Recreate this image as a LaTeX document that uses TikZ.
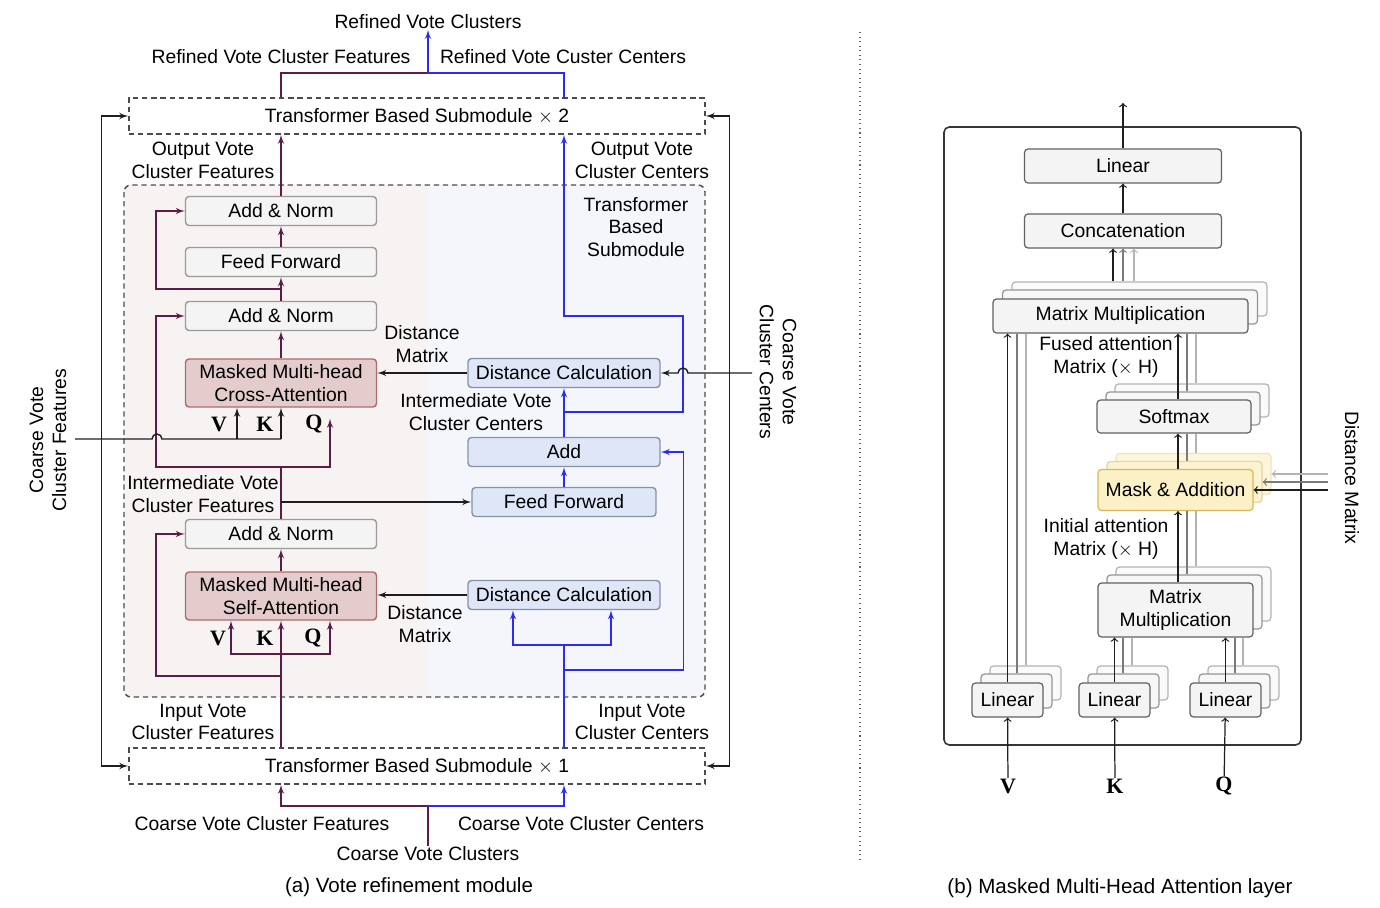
\documentclass[tikz,border=0pt]{standalone}
\usepackage{fontspec}
\setmainfont{Liberation Sans}
\newfontfamily\vkqfont{Liberation Serif}
\usepackage{tikz}
\usetikzlibrary{arrows,positioning,backgrounds}
\definecolor{featline}{HTML}{5E1B47}
\definecolor{ctrline}{HTML}{2B2BF5}
\definecolor{grayfill}{HTML}{F4F4F4}
\definecolor{graydraw}{HTML}{9A9A9A}
\definecolor{bluefill}{HTML}{DEE6F8}
\definecolor{bluedraw}{HTML}{8593A6}
\definecolor{attfill}{HTML}{E5CCCC}
\definecolor{attdraw}{HTML}{B06A6A}
\definecolor{featbg}{HTML}{F8F3F3}
\definecolor{ctrbg}{HTML}{F4F6FC}
\definecolor{maskfill}{HTML}{FBF0C6}
\definecolor{maskdraw}{HTML}{D7B85A}
\definecolor{darkline}{HTML}{1E1E1E}
\definecolor{midline}{HTML}{7A7A7A}
\definecolor{lightline}{HTML}{B4B4B4}

\begin{document}
\begin{tikzpicture}[
    x=0.02cm, y=-0.02cm,
    >=latex',
    font=\fontsize{11}{13}\selectfont,
    line width=0.8pt,
    graybox/.style={
		rectangle,
		rounded corners=2pt,
		draw=graydraw,
		fill=grayfill,
		minimum width=3.82cm,
		minimum height=0.58cm,
		inner sep=0pt,
		align=center
	},
    attbox/.style={
		graybox,
		draw=attdraw,
		fill=attfill,
		minimum height=0.96cm
	},
    bluebox/.style={
		graybox,
		draw=bluedraw,
		fill=bluefill,
		minimum width=3.84cm
	},
    subbox/.style={
		rectangle,
		draw=darkline!80,
		dash pattern=on 3pt off 2.2pt,
		minimum width=11.52cm,
		minimum height=0.72cm,
		inner sep=0pt
	},
    headbox/.style={
		rectangle,
		rounded corners=2pt,
		draw=darkline!70,
		fill=grayfill,
		line width=0.7pt,
		inner sep=0pt,
		align=center
	},
    stackA/.style={
		headbox,
		draw=midline!80,
		fill=grayfill!70
	},
    stackB/.style={
		headbox,
		draw=lightline,
		fill=grayfill!50
	},
    lbl/.style={
		inner sep=0pt,
		align=center
	},
    caption/.style={
		lbl,
		font=\fontsize{11.7}{14}\selectfont
	},
    vkq/.style={
		inner sep=0pt,
		font=\vkqfont\bfseries\fontsize{12.5}{14}\selectfont
	},
    feat/.style={draw=featline},
    ctr/.style={draw=ctrline},
    thin/.style={line width=0.7pt}
  ]
  \useasboundingbox (0,0) rectangle (1380,908);

  % backgrounds of the inner submodule
  \begin{scope}
    \clip[rounded corners=4pt] (124,185) rectangle (705,697);
    \fill[featbg] (124,185) rectangle (428,697);
    \fill[ctrbg] (428,185) rectangle (705,697);
  \end{scope}
  \draw[draw=darkline!80, dash pattern=on 3pt off 2.2pt, rounded corners=4pt] (124,185) rectangle (705,697);

  % (a) the blocks
  \node [subbox] (sub2) at (417,116) {Transformer Based Submodule $\times$ 2};
  \node [subbox] (sub1) at (417,766) {Transformer Based Submodule $\times$ 1};

  \node [graybox] (an3) at (281,211) {Add \& Norm};
  \node [graybox] (ff2) at (281,262) {Feed Forward};
  \node [graybox] (an2) at (281,316) {Add \& Norm};
  \node [attbox] (cross) at (281,383) {Masked Multi-head\\Cross-Attention};
  \node [graybox] (an1) at (281,534) {Add \& Norm};
  \node [attbox] (self) at (281,596) {Masked Multi-head\\Self-Attention};

  \node [bluebox] (dc2) at (564,373) {Distance Calculation};
  \node [bluebox] (addc) at (564,452) {Add};
  \node [bluebox, minimum width=3.68cm] (ffc) at (564,502) {Feed Forward};
  \node [bluebox] (dc1) at (564,595) {Distance Calculation};

  % labels
  \node [lbl] (rvc) at (428,22) {Refined Vote Clusters};
  \node [lbl] (rvf) at (281,57) {Refined Vote Cluster Features};
  \node [lbl] (rvcc) at (563,57) {Refined Vote Custer Centers};
  \node [lbl] (ovf) at (203,160) {Output Vote\\Cluster Features};
  \node [lbl] (ovc) at (642,160) {Output Vote\\Cluster Centers};
  \node [lbl] (tbs) at (636,227) {Transformer\\Based\\Submodule};
  \node [lbl] (dm2) at (422,344) {Distance\\Matrix};
  \node [lbl] (ivc) at (476,412) {Intermediate Vote\\Cluster Centers};
  \node [lbl] (ivf) at (203,494) {Intermediate Vote\\Cluster Features};
  \node [lbl] (dm1) at (425,624) {Distance\\Matrix};
  \node [lbl] (inf) at (203,722) {Input Vote\\Cluster Features};
  \node [lbl] (inc) at (642,722) {Input Vote\\Cluster Centers};
  \node [lbl] (cvfeat) at (262,824) {Coarse Vote Cluster Features};
  \node [lbl] (cvcent) at (581,824) {Coarse Vote Cluster Centers};
  \node [lbl] (cvclu) at (428,854) {Coarse Vote Clusters};
  \node [caption] (capa) at (409,887) {(a) Vote refinement module};
  \node [lbl, rotate=90] (cvfl) at (48,440) {Coarse Vote\\Cluster Features};
  \node [lbl, rotate=-90] (cvcr) at (778,372) {Coarse Vote\\Cluster Centers};

  \node [vkq] (vc) at (219,424) {V};
  \node [vkq] (kc) at (265,424) {K};
  \node [vkq] (qc) at (314,424) {Q};
  \node [vkq] (vs) at (218,638) {V};
  \node [vkq] (ks) at (265,638) {K};
  \node [vkq] (qs) at (313,638) {Q};

  \coordinate (topj) at (428,73);
  \coordinate (botj) at (428,806);
  \coordinate (cvfin) at (75,439);
  \coordinate (cvcin) at (752,373);

  % top and bottom
  \draw [feat] (sub2.north -| an3) |- (topj);
  \draw [ctr] (sub2.north -| dc2) |- (topj);
  \draw [ctr,->] (topj) -- (rvc.south);
  \draw [feat] (cvclu.north) -- (botj);
  \draw [feat,->] (botj) -| (sub1.south -| self);
  \draw [ctr,->] (botj) -| (sub1.south -| dc1);
  \draw [darkline,<->] (sub2.west) -| ([xshift=-0.54cm]sub1.west) -- (sub1.west);
  \draw [darkline,<->] (sub2.east) -| ([xshift=0.48cm]sub1.east) -- (sub1.east);

  % features branch
  \draw [feat,->] (an3) -- (an3 |- sub2.south);
  \draw [feat,->] (ff2) -- (an3);
  \draw [feat,->] (an2) -- (ff2);
  \draw [feat,->] (cross) -- (an2);
  \draw [feat,->] (281,289) -| ([xshift=-0.58cm]an3.west) -- (an3.west);
  \draw [feat] (an1.north) -- (281,467);
  \draw [feat,->] (281,467) -| ([xshift=-0.58cm]an2.west) -- (an2.west);
  \draw [feat,->] (281,467) -| ([xshift=0.98cm, yshift=-0.22cm]cross.south);
  \draw [darkline,->] (an1.north |- ffc) -- (ffc.west);
  \draw [darkline] (cvfin) -- (152,439) arc[start angle=180, end angle=0, radius=0.1cm] -- (cross.south |- cvfin);
  \draw [darkline,->] (cross.south |- cvfin) -- (cross.south);
  \draw [darkline,->] ([xshift=-0.88cm]cross.south |- cvfin) -- ([xshift=-0.88cm]cross.south);
  \draw [darkline,->] (dc2.west) -- (cross.east |- dc2);

  \draw [feat,->] (self) -- (an1);
  \draw [feat] (sub1.north -| self) -- (281,654);
  \draw [feat,->] (281,676) -| ([xshift=-0.58cm]an1.west) -- (an1.west);
  \draw [feat,->] (281,654) -| ([xshift=-1.0cm]self.south);
  \draw [feat,->] (281,654) -| ([xshift=0.98cm]self.south);
  \draw [feat,->] (281,654) -- (self.south);
  \draw [darkline,->] (dc1.west) -- (self.east |- dc1);

  % centers branch
  \draw [ctr] (sub1.north -| dc1) -- (564,645);
  \draw [ctr,->] (564,645) -| ([xshift=-1.02cm]dc1.south);
  \draw [ctr,->] (564,645) -| ([xshift=0.94cm]dc1.south);
  \draw [ctr,->] (564,670) -| ([xshift=0.46cm]addc.east) -- (addc.east);
  \draw [ctr,->] (ffc) -- (addc);
  \draw [ctr,->] (addc) -- (dc2);
  \draw [ctr,->] (564,412) -| (683,316) -| (sub2.south -| dc2);
  \draw [darkline,->] (cvcin) -- (688,373) arc[start angle=0, end angle=180, radius=0.1cm] -- (dc2.east);

  % divider
  \draw [darkline!70, line width=0.6pt, dotted] (860,32) -- (860,860);

  % (b) masked multi-head attention layer
  \draw [darkline!90, rounded corners=3pt, line width=0.9pt] (944,127) rectangle (1301,745);

  \node [headbox, minimum width=3.94cm, minimum height=0.68cm] (lin) at (1123,166) {Linear};
  \node [headbox, minimum width=3.94cm, minimum height=0.68cm] (concat) at (1123,231) {Concatenation};

  \node [stackB, minimum width=5.1cm, minimum height=0.68cm] (mmtc) at (1139.5,299) {};
  \node [stackA, minimum width=5.1cm, minimum height=0.68cm] (mmtb) at (1130,307) {};
  \node [headbox, minimum width=5.1cm, minimum height=0.68cm] (mmt) at (1120.5,316) {Matrix Multiplication};

  \node [stackB, minimum width=3.08cm, minimum height=0.66cm] (smc) at (1192,400.5) {};
  \node [stackA, minimum width=3.08cm, minimum height=0.66cm] (smb) at (1183,408.5) {};
  \node [headbox, minimum width=3.08cm, minimum height=0.66cm] (sm) at (1174,416.5) {Softmax};

  \node [stackB, fill=maskfill!60, draw=maskdraw!40, minimum width=3.1cm, minimum height=0.82cm] (mac) at (1193.5,474) {};
  \node [stackA, fill=maskfill!80, draw=maskdraw!60, minimum width=3.1cm, minimum height=0.82cm] (mab) at (1184.5,482) {};
  \node [headbox, fill=maskfill, draw=maskdraw, minimum width=3.1cm, minimum height=0.82cm] (ma) at (1175.5,490) {Mask \& Addition};

  \node [stackB, minimum width=3.1cm, minimum height=1.08cm] (mmlc) at (1193.5,594) {};
  \node [stackA, minimum width=3.1cm, minimum height=1.08cm] (mmlb) at (1184.5,602) {};
  \node [headbox, minimum width=3.1cm, minimum height=1.08cm] (mml) at (1175.5,610) {Matrix\\Multiplication};

  \node [stackB, minimum width=1.42cm, minimum height=0.68cm] (linvc) at (1025.5,683) {};
  \node [stackA, minimum width=1.42cm, minimum height=0.68cm] (linvb) at (1016.5,691) {};
  \node [headbox, minimum width=1.42cm, minimum height=0.68cm] (linv) at (1007.5,700) {Linear};
  \node [stackB, minimum width=1.42cm, minimum height=0.68cm] (linkc) at (1132.5,683) {};
  \node [stackA, minimum width=1.42cm, minimum height=0.68cm] (linkb) at (1123.5,691) {};
  \node [headbox, minimum width=1.42cm, minimum height=0.68cm] (link) at (1114.5,700) {Linear};
  \node [stackB, minimum width=1.42cm, minimum height=0.68cm] (linqc) at (1243.5,683) {};
  \node [stackA, minimum width=1.42cm, minimum height=0.68cm] (linqb) at (1234.5,691) {};
  \node [headbox, minimum width=1.42cm, minimum height=0.68cm] (linq) at (1225.5,700) {Linear};

  \node [vkq] (vin) at (1008,786) {V};
  \node [vkq] (kin) at (1115,786) {K};
  \node [vkq] (qin) at (1224,786) {Q};
  \node [lbl] (fam) at (1106,357) {Fused attention\\Matrix ($\times$ H)};
  \node [lbl] (iam) at (1106,539) {Initial attention\\Matrix ($\times$ H)};
  \node [lbl, rotate=-90] (dmr) at (1352,478) {Distance Matrix};
  \node [caption] (capb) at (1120,888) {(b) Masked Multi-Head Attention layer};

  \coordinate (mhout) at (1123,103);
  \coordinate (dmin) at (1328,490);

  \draw [thin,darkline,-to] (lin.north) -- (mhout);
  \draw [thin,darkline,-to] (concat) -- (lin);
  \draw [thin,darkline,-to] ([xshift=-0.2cm]concat.south |- mmtc.north) -- ([xshift=-0.2cm]concat.south);
  \draw [thin,midline,-to] (concat.south |- mmtc.north) -- (concat.south);
  \draw [thin,lightline,-to] ([xshift=0.22cm]concat.south |- mmtc.north) -- ([xshift=0.22cm]concat.south);

  \draw [thin,darkline,-to] (sm.north -| 1178,0) -- (mmt.south -| 1178,0);
  \draw [thin,midline] (smb.north -| 1187,0) -- (mmt.south -| 1187,0);
  \draw [thin,lightline] (smc.north -| 1196,0) -- (mmt.south -| 1196,0);

  \draw [thin,darkline,-to] (ma.north -| 1178,0) -- (sm.south -| 1178,0);
  \draw [thin,midline] (mab.north -| 1187,0) -- (sm.south -| 1187,0);
  \draw [thin,lightline] (mac.north -| 1196,0) -- (sm.south -| 1196,0);

  \draw [thin,darkline,-to] (mml.north -| 1178,0) -- (ma.south -| 1178,0);
  \draw [thin,midline] (mmlb.north -| 1187,0) -- (ma.south -| 1187,0);
  \draw [thin,lightline] (mmlc.north -| 1196,0) -- (ma.south -| 1196,0);

  \draw [thin,darkline,-to] (linv.north) -- (mmt.south -| linv);
  \draw [thin,midline] (linvb.north -| 1017,0) -- (mmt.south -| 1017,0);
  \draw [thin,lightline] (linvc.north -| 1026,0) -- (mmt.south -| 1026,0);

  \draw [thin,darkline,-to] (link.north) -- (mml.south -| link);
  \draw [thin,midline] (linkb.north -| 1123,0) -- (mml.south -| 1123,0);
  \draw [thin,lightline] (linkc.north -| 1132,0) -- (mml.south -| 1132,0);

  \draw [thin,darkline,-to] (linq.north) -- (mml.south -| linq);
  \draw [thin,midline] (linqb.north -| 1235,0) -- (mml.south -| 1235,0);
  \draw [thin,lightline] (linqc.north -| 1243,0) -- (mml.south -| 1243,0);

  \draw [thin,darkline,-to] (vin) -- (linv);
  \draw [thin,darkline,-to] (kin) -- (link);
  \draw [thin,darkline,-to] (qin) -- (linq);

  \draw [thin,darkline,-to] (dmin) -- (ma.east |- dmin);
  \draw [thin,midline,-to] (dmin |- mab.center) -- (mab.east);
  \draw [thin,lightline,-to] (dmin |- mac.center) -- (mac.east);

\end{tikzpicture}
\end{document}
